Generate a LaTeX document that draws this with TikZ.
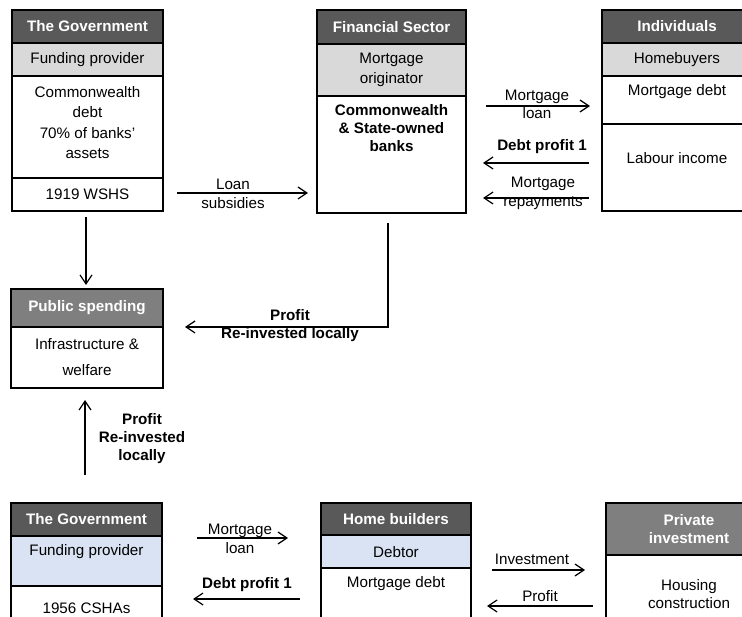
\documentclass[tikz,border=0pt]{standalone}
\usepackage{fontspec}
\setmainfont{Liberation Sans}
\usetikzlibrary{arrows.meta}
\definecolor{hdark}{HTML}{595959}
\definecolor{hmid}{HTML}{7F7F7F}
\definecolor{band}{HTML}{D9D9D9}
\definecolor{lblue}{HTML}{DAE3F3}
\tikzset{
  cell/.style={draw=black, line width=1.4pt, anchor=north west, inner sep=0pt, outer sep=0pt, align=center},
  hd/.style={cell, fill=hdark, text=white, font=\fontsize{15.2}{18}\selectfont\bfseries},
  hdm/.style={cell, fill=hmid, text=white, font=\fontsize{15.2}{18}\selectfont\bfseries},
  gband/.style={cell, fill=band, font=\fontsize{15.2}{20}\selectfont},
  bband/.style={cell, fill=lblue},
  wcell/.style={cell, fill=white, font=\fontsize{15.2}{20}\selectfont},
  txt/.style={font=\fontsize{15.2}{20.5}\selectfont, align=center, inner sep=0pt},
  btxt/.style={font=\fontsize{15.2}{18}\selectfont\bfseries, align=center, inner sep=0pt},
  ltxt/.style={font=\fontsize{15.2}{19}\selectfont, align=center, inner sep=0pt},
  arr/.style={line width=1.2pt, -{Straight Barb[length=9pt,width=12pt,line width=1.2pt]}},
}
\begin{document}
\begin{tikzpicture}[x=1pt,y=-1pt]
\useasboundingbox (0,0) rectangle (742,617);
\clip (0,0) rectangle (742,617);

% ---- The Government (top)
\node[hd, minimum width=151pt, minimum height=33pt] (g1h) at (12,10) {The Government};
\node[gband, minimum width=151pt, minimum height=33pt] (g1b) at (12,43) {Funding provider};
\node[wcell, minimum width=151pt, minimum height=102pt] (g1w) at (12,76) {};
\node[txt] (g1t) at (87.5,122.5) {Commonwealth\\debt\\70\% of banks'\\assets};
\node[wcell, minimum width=151pt, minimum height=33pt] (g1r) at (12,178) {1919 WSHS};

% ---- Financial Sector
\node[hd, minimum width=149pt, minimum height=34pt] (fh) at (317,10) {Financial Sector};
\node[gband, minimum width=149pt, minimum height=52pt] (fb) at (317,44) {Mortgage\\originator};
\node[wcell, minimum width=149pt, minimum height=117pt] (fw) at (317,96) {};
\node[btxt] (ft) at (391.5,128) {Commonwealth\\\& State-owned\\banks};

% ---- Individuals
\node[hd, minimum width=150pt, minimum height=33pt] (ih) at (602,10) {Individuals};
\node[gband, minimum width=150pt, minimum height=33pt] (ib) at (602,43) {Homebuyers};
\node[wcell, minimum width=150pt, minimum height=48pt] (iw1) at (602,76) {};
\node[txt] (it1) at (677,92) {Mortgage debt};
\node[wcell, minimum width=150pt, minimum height=87pt] (iw2) at (602,124) {};
\node[txt] (it2) at (677,158) {Labour income};

% ---- Public spending
\node[hdm, minimum width=152pt, minimum height=38pt] (ph) at (11,289) {Public spending};
\node[wcell, minimum width=152pt, minimum height=61pt] (pw) at (11,327) {};
\node[font=\fontsize{15.2}{26}\selectfont, align=center, inner sep=0pt] (pt) at (87,357) {Infrastructure \&\\welfare};

% ---- The Government (bottom)
\node[hd, minimum width=151pt, minimum height=33pt] (g2h) at (11,503) {The Government};
\node[bband, minimum width=151pt, minimum height=50pt] (g2b) at (11,536) {};
\node[txt] (g2bt) at (86.5,552) {Funding provider};
\node[wcell, minimum width=151pt, minimum height=45pt] (g2w) at (11,586) {};
\node[txt] (g2wt) at (86.5,608) {1956 CSHAs};

% ---- Home builders
\node[hd, minimum width=150pt, minimum height=32pt] (hh) at (321,503) {Home builders};
\node[bband, minimum width=150pt, minimum height=33pt] (hb) at (321,535) {};
\node[txt] (hbt) at (396,552) {Debtor};
\node[wcell, minimum width=150pt, minimum height=60pt] (hw) at (321,568) {};
\node[txt] (hwt) at (396,584) {Mortgage debt};

% ---- Private investment
\node[hdm, minimum width=166pt, minimum height=52pt] (vh) at (606,503) {Private\\investment};
\node[wcell, minimum width=166pt, minimum height=70pt] (vw) at (606,555) {};
\node[ltxt, font=\fontsize{15.2}{18}\selectfont] (vt) at (689,594) {Housing\\construction};

% ---- connectors
\coordinate (ls1) at (177,193); \coordinate (ls2) at (308,193);
\draw[arr] (ls1) -- (ls2);
\node[ltxt] (lsl) at (233,193.5) {Loan\\subsidies};

\coordinate (ml1) at (486,106); \coordinate (ml2) at (590,106);
\draw[arr] (ml1) -- (ml2);
\node[ltxt, font=\fontsize{15.2}{18}\selectfont] (mll) at (537,104) {Mortgage\\loan};

\coordinate (dp1) at (589,163); \coordinate (dp2) at (483,163);
\draw[arr] (dp1) -- (dp2);
\node[btxt] (dpl) at (542,147) {Debt profit 1};

\coordinate (mr1) at (589,198); \coordinate (mr2) at (483,198);
\draw[arr] (mr1) -- (mr2);
\node[ltxt] (mrl) at (543,193.5) {Mortgage\\repayments};

\coordinate (gp1) at (86,217); \coordinate (gp2) at (86,285);
\draw[arr] (gp1) -- (gp2);

\coordinate (fp1) at (388,223); \coordinate (fp2) at (185,327);
\draw[arr] (fp1) |- (fp2);
\node[btxt] (fpl) at (290,326) {Profit\\Re-invested locally};

\coordinate (up1) at (85,475); \coordinate (up2) at (85,400);
\draw[arr] (up1) -- (up2);
\node[btxt] (upl) at (142,439) {Profit\\Re-invested\\locally};

\coordinate (bm1) at (197,538); \coordinate (bm2) at (288,538);
\draw[arr] (bm1) -- (bm2);
\node[ltxt] (bml) at (240,538.5) {Mortgage\\loan};

\coordinate (bd1) at (300,599); \coordinate (bd2) at (193,599);
\draw[arr] (bd1) -- (bd2);
\node[btxt] (bdl) at (247,585) {Debt profit 1};

\coordinate (in1) at (492,570); \coordinate (in2) at (585,570);
\draw[arr] (in1) -- (in2);
\node[txt] (inl) at (532,559) {Investment};

\coordinate (pr1) at (593,606); \coordinate (pr2) at (487,606);
\draw[arr] (pr1) -- (pr2);
\node[txt] (prl) at (540,596) {Profit};
\end{tikzpicture}
\end{document}
